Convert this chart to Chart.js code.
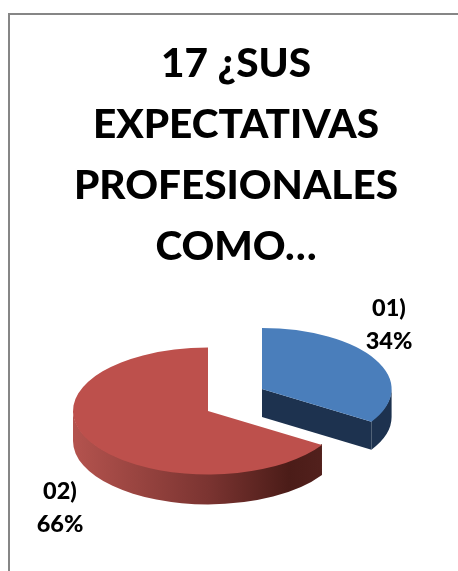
<!DOCTYPE html>
<html>
<head>
<meta charset="utf-8">
<style>
html, body { margin: 0; padding: 0; background: #fff; overflow: hidden; }
#frame { position: absolute; left: 8px; top: 13px; border-left: 2px solid #868686; border-top: 2px solid #868686; }
canvas { display: block; }
</style>
<script src="https://cdn.jsdelivr.net/npm/chart.js@4/dist/chart.umd.js"></script>
</head>
<body>
<div id="frame"><canvas id="chart" width="452" height="556"></canvas></div>
<script>
const titleLines = ['17 ¿SUS', 'EXPECTATIVAS', 'PROFESIONALES', 'COMO…'];
const categories = ['01)', '02)'];
const percentages = [34, 66];
const topColors = ['#4a7ebb', '#bd504c'];

// fake 3d look, the pie is squashed and given a wall by the plugin below
const FONT = 'Lato, Carlito, sans-serif';
const tilt = 0.47;
const radius = 135;
const pieCenter = { x: 198, y: 396 };
const explodeX = [54, 0];
const explodeY = [-22, 0];
const sliceScale = [0.96, 1];
const depth = [28, 30];
const labelDx = [127, -148];
const labelDy = [-65, 96];

function drawWall(ctx, x, y, r, h, from, to, fill) {
    ctx.beginPath();
    ctx.ellipse(x, y - 1, r, r * tilt, 0, from, to);
    ctx.ellipse(x, y + h, r, r * tilt, 0, to, from, true);
    ctx.closePath();
    ctx.fillStyle = fill;
    ctx.fill();
}

const pie3d = {
    id: 'pie3d',
    beforeDatasetDraw(chart) {
        const ctx = chart.ctx;
        const arcs = chart.getDatasetMeta(0).data;

        arcs.forEach((arc, i) => {
            const x = pieCenter.x + explodeX[i];
            const y = pieCenter.y + explodeY[i];
            const r = arc.outerRadius * sliceScale[i];
            const h = depth[i];
            const from = arc.startAngle;
            const to = arc.endAngle;

            if (i === 0) {
                // blue slice: cut face plus the small part of the rim we can see
                const tipX = x + Math.cos(to) * r;
                const tipY = y + Math.sin(to) * r * tilt;
                ctx.beginPath();
                ctx.moveTo(x, y);
                ctx.lineTo(tipX, tipY);
                ctx.lineTo(tipX, tipY + h);
                ctx.lineTo(x, y + h);
                ctx.closePath();
                ctx.fillStyle = '#1d324f';
                ctx.fill();
                drawWall(ctx, x, y, r, h, 0, to, '#1d324f');
            } else {
                const wall = ctx.createLinearGradient(x - r, 0, x + r, 0);
                wall.addColorStop(0, '#b4534e');
                wall.addColorStop(0.5, '#7b3431');
                wall.addColorStop(0.8, '#4b1c18');
                wall.addColorStop(1, '#56231f');
                drawWall(ctx, x, y, r, h, from, Math.PI, wall);
            }

            ctx.save();
            ctx.translate(x, y);
            ctx.scale(sliceScale[i], tilt * sliceScale[i]);
            ctx.translate(-arc.x, -arc.y);
            arc.draw(ctx);
            ctx.restore();

            ctx.fillStyle = '#000';
            ctx.font = '900 23.5px ' + FONT;
            ctx.textAlign = 'center';
            ctx.textBaseline = 'middle';
            ctx.fillText(categories[i], x + labelDx[i], y + labelDy[i] - 16);
            ctx.fillText(percentages[i] + '%', x + labelDx[i], y + labelDy[i] + 17);
        });

        return false;
    },
};

new Chart(document.getElementById('chart'), {
    type: 'pie',
    data: {
        labels: categories,
        datasets: [
            {
                data: percentages,
                backgroundColor: topColors,
                borderWidth: 0,
            },
        ],
    },
    options: {
        responsive: false,
        animation: false,
        events: [],
        radius: radius,
        plugins: {
            legend: { display: false },
            tooltip: { enabled: false },
            title: {
                display: true,
                text: titleLines,
                color: '#000',
                padding: { top: 19, bottom: 10 },
                font: { family: FONT, size: 40.5, weight: '900', lineHeight: 1.5 },
            },
        },
    },
    plugins: [pie3d],
});
</script>
</body>
</html>
